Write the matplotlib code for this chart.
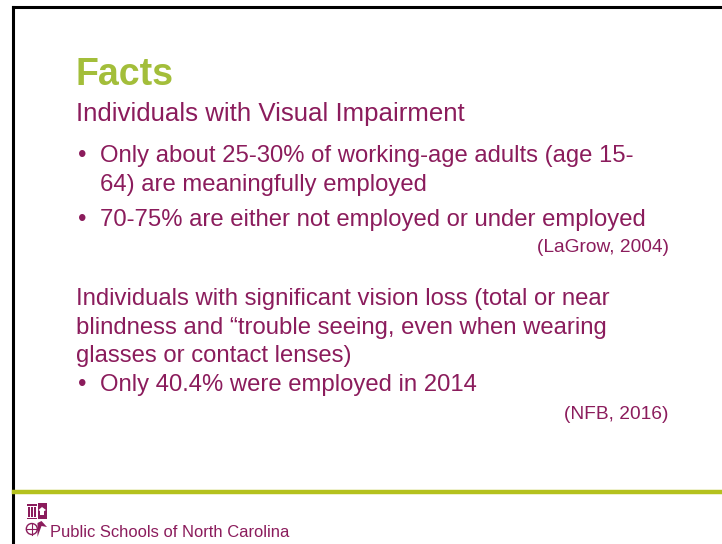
"""
Slide: Facts - employment of individuals with visual impairment
"""
import matplotlib.pyplot as plt
from matplotlib.patches import Rectangle, Circle, Polygon

plt.rcParams['font.family'] = ['Liberation Sans', 'DejaVu Sans']

maroon = '#8B1C5C'
green_title = '#A3BE3A'
green_rule = '#B4C11E'

title = 'Facts'
subtitle_1 = ['Individuals with Visual Impairment']
bullets_1 = [['Only about 25-30% of working-age adults (age 15-',
              '64) are meaningfully employed'],
             ['70-75% are either not employed or under employed']]
cite_1 = '(LaGrow, 2004)'
subtitle_2 = ['Individuals with significant vision loss (total or near',
              'blindness and \u201ctrouble seeing, even when wearing',
              'glasses or contact lenses)']
bullets_2 = [['Only 40.4% were employed in 2014']]
cite_2 = '(NFB, 2016)'
footer = 'Public Schools of North Carolina'

W, H = 722, 544
fig = plt.figure(figsize=(W / 100, H / 100), dpi=100)
ax = fig.add_axes([0, 0, 1, 1])
ax.set_xlim(0, W)
ax.set_ylim(H, 0)
ax.axis('off')

# slide frame (top and left edges visible)
ax.plot([12.5, W], [7, 7], color='black', lw=2.2)
ax.plot([12.5, 12.5], [7, H], color='black', lw=2.2)

# footer rule
ax.plot([13.5, W], [492, 492], color=green_rule, lw=3.2)

body = 17.2
line_h = 28.7

ax.text(75, 85, title, color=green_title, fontsize=27, fontweight='bold', va='baseline')
ax.text(76, 121, subtitle_1[0], color=maroon, fontsize=18.6, va='baseline')


def draw_bullets(items, y):
    for lines in items:
        ax.text(78, y, '\u2022', color=maroon, fontsize=body, va='baseline')
        for ln in lines:
            ax.text(100, y, ln, color=maroon, fontsize=body, va='baseline')
            y += line_h
        y += 7
    return y


draw_bullets(bullets_1, 162)
ax.text(669, 252, cite_1, color=maroon, fontsize=13.8, ha='right', va='baseline')

y = 305
for ln in subtitle_2:
    ax.text(76, y, ln, color=maroon, fontsize=body, va='baseline')
    y += line_h
draw_bullets(bullets_2, 391)
ax.text(669, 419, cite_2, color=maroon, fontsize=13.8, ha='right', va='baseline')

# logo (simplified four-quadrant mark)
lx, ly, c = 27, 503, 9.5
# top-left: columns
ax.add_patch(Rectangle((lx, ly + 1), c, 2, color=maroon, lw=0))
for cx in (lx + 1.6, lx + 4.7, lx + 7.8):
    ax.add_patch(Rectangle((cx - 0.9, ly + 4), 1.8, 10, color=maroon, lw=0))
ax.add_patch(Rectangle((lx, ly + 14.5), c, 1.5, color=maroon, lw=0))
# top-right: block with mortarboard
ax.add_patch(Rectangle((lx + c + 1, ly), c, 16, color=maroon, lw=0))
ax.add_patch(Polygon([(lx + c + 2, ly + 7), (lx + c + 5.5, ly + 4), (lx + 2 * c, ly + 7),
                      (lx + c + 5.5, ly + 9.5)], color='white', lw=0))
ax.add_patch(Rectangle((lx + c + 3.5, ly + 8), 4, 4, color='white', lw=0))
# bottom-left: globe
ax.add_patch(Circle((lx + 4.8, ly + 26), 5.5, fill=False, ec=maroon, lw=1))
ax.plot([lx - 0.5, lx + 10], [ly + 26, ly + 26], color=maroon, lw=0.8)
ax.plot([lx + 4.8, lx + 4.8], [ly + 20.5, ly + 31.5], color=maroon, lw=0.8)
# bottom-right: shape
ax.add_patch(Polygon([(lx + c + 1, ly + 34), (lx + c + 1, ly + 20), (lx + c + 5, ly + 18),
                      (lx + 2 * c + 1, ly + 24), (lx + c + 5, ly + 23)], color=maroon, lw=0))
ax.text(50, 537, footer, color=maroon, fontsize=11.9, va='baseline')

fig.savefig('out.png', dpi=100)
